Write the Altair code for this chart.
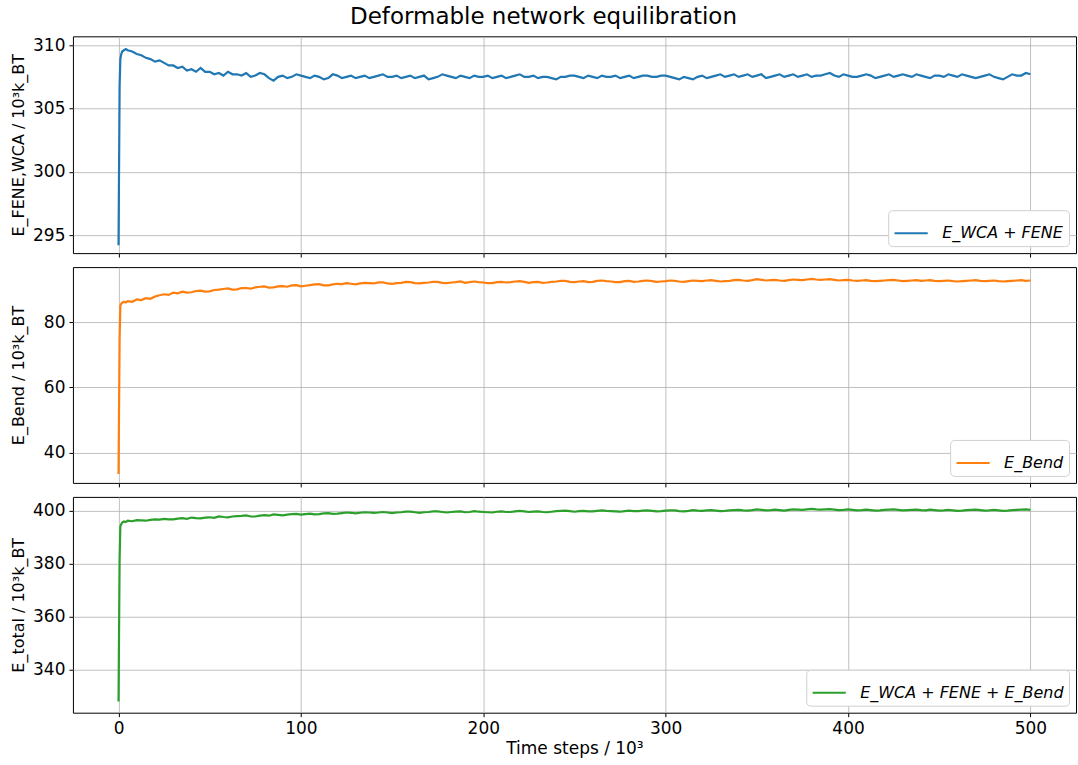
import altair as alt
import pandas as pd

# Time steps / 10^3
TIME = [0, 0.3, 0.6, 1, 1.5, 2, 3, 4,
        5, 7.5, 10, 12.5, 15, 17.5, 20, 22.5, 25, 27.5,
        30, 32.5, 35, 37.5, 40, 42.5, 45, 47.5, 50, 52.5,
        55, 57.5, 60, 62.5, 65, 67.5, 70, 72.5, 75, 77.5,
        80, 82.5, 85, 87.5, 90, 92.5, 95, 97.5, 100, 102.5,
        105, 107.5, 110, 112.5, 115, 117.5, 120, 122.5, 125, 127.5,
        130, 132.5, 135, 137.5, 140, 142.5, 145, 147.5, 150, 152.5,
        155, 157.5, 160, 162.5, 165, 167.5, 170, 172.5, 175, 177.5,
        180, 182.5, 185, 187.5, 190, 192.5, 195, 197.5, 200, 202.5,
        205, 207.5, 210, 212.5, 215, 217.5, 220, 222.5, 225, 227.5,
        230, 232.5, 235, 237.5, 240, 242.5, 245, 247.5, 250, 252.5,
        255, 257.5, 260, 262.5, 265, 267.5, 270, 272.5, 275, 277.5,
        280, 282.5, 285, 287.5, 290, 292.5, 295, 297.5, 300, 302.5,
        305, 307.5, 310, 312.5, 315, 317.5, 320, 322.5, 325, 327.5,
        330, 332.5, 335, 337.5, 340, 342.5, 345, 347.5, 350, 352.5,
        355, 357.5, 360, 362.5, 365, 367.5, 370, 372.5, 375, 377.5,
        380, 382.5, 385, 387.5, 390, 392.5, 395, 397.5, 400, 402.5,
        405, 407.5, 410, 412.5, 415, 417.5, 420, 422.5, 425, 427.5,
        430, 432.5, 435, 437.5, 440, 442.5, 445, 447.5, 450, 452.5,
        455, 457.5, 460, 462.5, 465, 467.5, 470, 472.5, 475, 477.5,
        480, 482.5, 485, 487.5, 490, 492.5, 495, 497.5, 500]

E_FENE = [294.2, 300.5, 306.8, 308.9, 309.3, 309.5, 309.6, 309.7,
          309.6, 309.5, 309.3, 309.2, 309.0, 308.9, 308.7, 308.8, 308.6, 308.4,
          308.4, 308.2, 308.3, 308.0, 308.1, 307.9, 308.2, 307.9, 307.9, 307.7,
          307.8, 307.6, 307.9, 307.7, 307.7, 307.6, 307.8, 307.5, 307.6, 307.8,
          307.7, 307.4, 307.2, 307.5, 307.6, 307.4, 307.5, 307.7, 307.6, 307.5,
          307.4, 307.6, 307.5, 307.3, 307.4, 307.7, 307.6, 307.4, 307.5, 307.6,
          307.4, 307.5, 307.6, 307.4, 307.5, 307.6, 307.7, 307.5, 307.5, 307.6,
          307.4, 307.5, 307.6, 307.4, 307.5, 307.6, 307.3, 307.4, 307.5, 307.7,
          307.6, 307.5, 307.4, 307.6, 307.5, 307.4, 307.6, 307.5, 307.5, 307.6,
          307.4, 307.5, 307.6, 307.4, 307.5, 307.6, 307.7, 307.5, 307.5, 307.6,
          307.4, 307.5, 307.5, 307.4, 307.3, 307.5, 307.5, 307.6, 307.6, 307.5,
          307.4, 307.6, 307.5, 307.4, 307.6, 307.5, 307.5, 307.6, 307.4, 307.5,
          307.6, 307.4, 307.5, 307.6, 307.6, 307.5, 307.5, 307.6, 307.6, 307.5,
          307.4, 307.3, 307.5, 307.4, 307.3, 307.5, 307.6, 307.4, 307.5, 307.6,
          307.7, 307.5, 307.6, 307.7, 307.5, 307.6, 307.7, 307.5, 307.6, 307.7,
          307.4, 307.5, 307.6, 307.7, 307.5, 307.6, 307.7, 307.5, 307.6, 307.7,
          307.5, 307.6, 307.6, 307.7, 307.8, 307.6, 307.5, 307.7, 307.6, 307.5,
          307.5, 307.6, 307.7, 307.6, 307.4, 307.5, 307.6, 307.7, 307.5, 307.6,
          307.7, 307.6, 307.5, 307.7, 307.6, 307.5, 307.4, 307.6, 307.6, 307.5,
          307.7, 307.6, 307.5, 307.7, 307.6, 307.5, 307.4, 307.5, 307.6, 307.7,
          307.5, 307.4, 307.3, 307.5, 307.7, 307.6, 307.6, 307.8, 307.7]

E_BEND = [33.5, 55.0, 75.0, 85.0, 85.6, 85.9, 86.2, 86.0,
          86.4, 86.2, 86.9, 86.7, 87.3, 87.1, 87.8, 88.2, 88.5, 88.3,
          89.0, 88.8, 89.3, 89.0, 89.1, 89.5, 89.6, 89.3, 89.4, 89.8,
          89.9, 90.1, 90.3, 89.9, 90.0, 90.4, 90.4, 90.2, 90.6, 90.8,
          90.9, 90.5, 90.6, 90.9, 91.0, 90.8, 91.2, 91.3, 90.9, 91.1,
          91.3, 91.5, 91.6, 91.2, 91.2, 91.5, 91.7, 91.6, 91.9, 91.7,
          91.5, 91.8, 92.0, 91.9, 91.8, 92.1, 92.1, 91.8, 91.7, 91.9,
          92.0, 92.3, 92.2, 91.9, 91.8, 92.0, 92.1, 92.3, 92.3, 92.0,
          91.9, 92.1, 92.2, 92.4, 92.0, 92.2, 92.4, 92.2, 92.1, 91.9,
          91.9, 92.2, 92.3, 92.1, 92.2, 92.4, 92.5, 92.3, 92.0, 92.2,
          92.3, 92.0, 92.1, 92.3, 92.4, 92.6, 92.6, 92.3, 92.2, 92.4,
          92.5, 92.2, 92.3, 92.6, 92.7, 92.5, 92.4, 92.2, 92.2, 92.5,
          92.6, 92.3, 92.4, 92.6, 92.7, 92.5, 92.3, 92.4, 92.5, 92.7,
          92.6, 92.4, 92.3, 92.5, 92.7, 92.6, 92.5, 92.7, 92.8, 92.6,
          92.4, 92.5, 92.6, 92.8, 92.9, 92.7, 92.6, 92.8, 93.1, 92.9,
          92.7, 92.8, 92.9, 92.7, 92.6, 92.8, 93.0, 92.9, 92.8, 93.0,
          93.2, 93.0, 92.9, 93.0, 93.1, 92.9, 92.7, 92.8, 92.9, 92.7,
          92.6, 92.7, 92.8, 92.6, 92.5, 92.6, 92.7, 92.8, 92.9, 92.7,
          92.5, 92.6, 92.7, 92.8, 92.6, 92.7, 92.8, 92.6, 92.5, 92.6,
          92.7, 92.5, 92.4, 92.5, 92.6, 92.7, 92.8, 92.6, 92.5, 92.6,
          92.7, 92.5, 92.4, 92.5, 92.6, 92.7, 92.8, 92.6, 92.7]

E_TOTAL = [328.0, 356.0, 382.0, 394.2, 395.0, 395.6, 396.0, 395.8,
           396.3, 396.1, 396.5, 396.4, 396.3, 396.6, 396.8, 396.7, 397.0, 396.8,
           396.8, 397.1, 397.3, 397.0, 397.5, 397.3, 397.2, 397.5, 397.6, 397.4,
           397.9, 397.7, 397.6, 397.9, 398.0, 398.1, 398.3, 397.9, 397.9, 398.2,
           398.4, 398.2, 398.7, 398.5, 398.3, 398.6, 398.8, 398.9, 398.6, 398.8,
           399.0, 398.7, 398.8, 399.1, 399.2, 398.9, 399.0, 399.2, 399.4, 399.3,
           399.1, 399.3, 399.5, 399.4, 399.3, 399.4, 399.6, 399.4, 399.2, 399.4,
           399.5, 399.7, 399.7, 399.5, 399.3, 399.5, 399.6, 399.8, 399.8, 399.6,
           399.4, 399.6, 399.7, 399.8, 399.5, 399.6, 399.9, 399.7, 399.6, 399.5,
           399.4, 399.7, 399.8, 399.6, 399.6, 399.8, 400.0, 399.8, 399.6, 399.7,
           399.8, 399.6, 399.5, 399.7, 399.9, 400.0, 400.1, 399.9, 399.7, 399.9,
           400.0, 399.8, 399.8, 400.0, 400.2, 400.0, 399.9, 399.8, 399.7, 399.9,
           400.1, 399.9, 399.9, 400.1, 400.2, 400.0, 399.8, 399.9, 400.1, 400.2,
           400.2, 399.9, 399.8, 400.0, 400.3, 400.1, 400.0, 400.2, 400.3, 400.1,
           399.9, 400.0, 400.2, 400.3, 400.4, 400.2, 400.1, 400.3, 400.6, 400.4,
           400.2, 400.3, 400.5, 400.3, 400.1, 400.4, 400.6, 400.5, 400.4, 400.6,
           400.8, 400.6, 400.5, 400.6, 400.7, 400.5, 400.3, 400.4, 400.6, 400.4,
           400.2, 400.3, 400.5, 400.3, 400.1, 400.2, 400.4, 400.5, 400.6, 400.4,
           400.2, 400.3, 400.4, 400.5, 400.3, 400.2, 400.5, 400.3, 400.1, 400.2,
           400.4, 400.2, 400.0, 400.1, 400.3, 400.4, 400.5, 400.3, 400.1, 400.2,
           400.4, 400.2, 400.0, 400.1, 400.3, 400.4, 400.5, 400.6, 400.4]

X_TICKS = [0, 100, 200, 300, 400, 500]
FONT = "DejaVu Sans"


def panel(values, label, color, ytitle, ydomain, yticks, height, show_x):
    df = pd.DataFrame({"t": TIME, "E": values, "series": label})
    x_axis = alt.Axis(values=X_TICKS, labels=show_x, grid=True,
                      title="Time steps / 10³" if show_x else None)
    return (
        alt.Chart(df)
        .mark_line(strokeWidth=2.2, clip=True)
        .encode(
            x=alt.X("t:Q", scale=alt.Scale(domain=[-25, 525], nice=False, zero=False),
                    axis=x_axis),
            y=alt.Y("E:Q", scale=alt.Scale(domain=ydomain, nice=False, zero=False),
                    axis=alt.Axis(values=yticks, title=ytitle, minExtent=40,
                                  maxExtent=40, titlePadding=6, titleFontSize=16)),
            color=alt.Color("series:N",
                            scale=alt.Scale(domain=[label], range=[color]),
                            legend=alt.Legend(title=None, orient="bottom-right",
                                              offset=7, padding=5,
                                              fillColor="white",
                                              strokeColor="#d0d0d0",
                                              cornerRadius=4,
                                              symbolType="stroke",
                                              symbolSize=1100,
                                              symbolStrokeWidth=2,
                                              labelOffset=13,
                                              labelFont=FONT,
                                              labelFontSize=16,
                                              labelFontStyle="italic",
                                              labelLimit=400)),
        )
        .properties(width=1004, height=height)
    )


p1 = panel(E_FENE, "E_WCA + FENE", "#1f77b4", "E_FENE,WCA / 10³k_BT",
           [293.58, 310.7], [295, 300, 305, 310], 217, False)
p2 = panel(E_BEND, "E_Bend", "#ff7f0e", "E_Bend / 10³k_BT",
           [30.8, 96.8], [40, 60, 80], 216, False)
p3 = panel(E_TOTAL, "E_WCA + FENE + E_Bend", "#2ca02c", "E_total / 10³k_BT",
           [323.8, 405.3], [340, 360, 380, 400], 216, True)

chart = (
    alt.vconcat(p1, p2, p3, spacing=8)
    .resolve_scale(color="independent", y="independent")
    .properties(
        title=alt.TitleParams("Deformable network equilibration", fontSize=23,
                              font=FONT, fontWeight="normal", anchor="middle",
                              offset=7, color="black"),
        padding={"left": 10, "top": 5, "right": 1, "bottom": 1},
    )
    .configure_view(stroke="black", strokeWidth=1)
    .configure_axis(
        domain=False,
        tickColor="black",
        tickSize=4,
        tickWidth=1,
        labelFont=FONT,
        labelFontSize=17,
        labelColor="black",
        labelPadding=4,
        titleFont=FONT,
        titleFontSize=17,
        titleFontWeight="normal",
        titleColor="black",
        gridColor="#b0b0b0",
        gridWidth=0.8,
    )
)

chart.save("out.html", embed_options={"renderer": "svg", "actions": False})
